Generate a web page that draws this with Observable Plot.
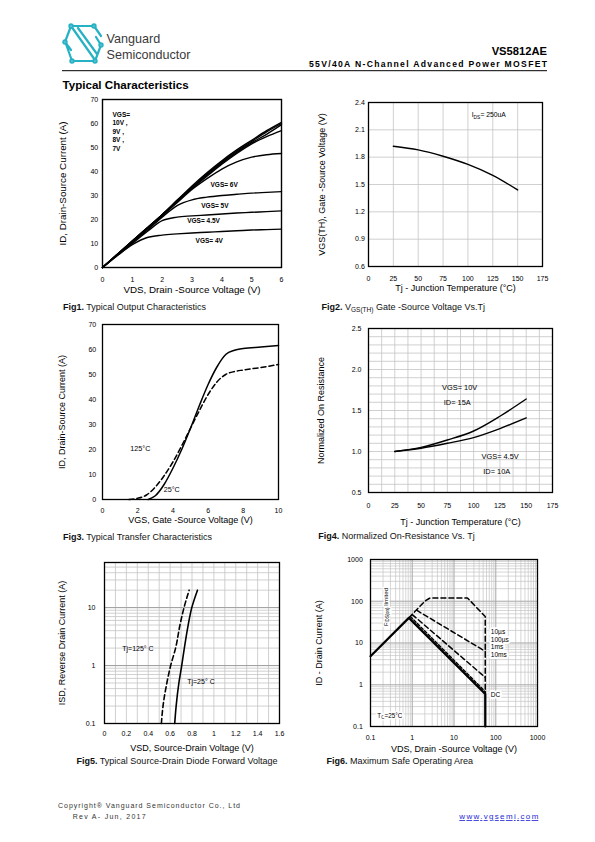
<!DOCTYPE html>
<html><head><meta charset="utf-8">
<script src="https://cdn.jsdelivr.net/npm/d3@7"></script>
<script src="https://cdn.jsdelivr.net/npm/@observablehq/plot@0.6"></script>
<style>
body{margin:0;background:#fff;}
#page{position:relative;width:595px;height:842px;overflow:hidden;background:#fff;}
</style></head><body><div id="page"></div>
<script>
const FONT = "'Liberation Sans', Arial, Helvetica, sans-serif";
const page = document.getElementById("page");

// ================= DATA =================
// Fig1 – output characteristics
const fig1VDS = [0,0.5,1,1.5,2,2.5,3,3.5,4,4.5,5,5.5,6];
const fig1Series = ["10V","9V","8V","7V","6V","5V","4.5V","4V"];
const fig1ID10 = [0,5.5,11,16.5,22,28,34,39.5,44.5,49,53,57,60.5];
const fig1ID9  = [0,5.5,11,16.5,22,28,33.5,39,44,48.5,52.5,56.5,60];
const fig1ID8  = [0,5.5,11,16.5,22,27.5,33,38.5,43.5,48,52,55.5,59.5];
const fig1ID7  = [0,5.5,11,16.5,22,27.5,33,38,43,47.5,51.5,54.5,57];
const fig1ID6  = [0,5.5,10.5,16,21.5,27,32.5,37,41,44,46,47,47.5];
const fig1ID5  = [0,5.3,10.5,15.5,21,25.8,28.2,29.3,30,30.5,31,31.3,31.6];
const fig1ID45 = [0,5,10,15,19.5,21,21.5,21.9,22.3,22.7,23,23.3,23.6];
const fig1ID4  = [0,5,9.5,12.5,13.5,14,14.4,14.7,15,15.3,15.6,15.8,16];
const fig1Labels = ["VGS= 6V","VGS= 5V","VGS= 4.5V","VGS= 4V"];
const fig1LabelX = [3.62,3.31,2.84,3.12];
const fig1LabelY = [34.6,25.8,19.6,11.0];
const fig1Block = "VGS=\n10V ,\n9V ,\n8V ,\n7V";
const fig1XTicks = [0,1,2,3,4,5,6];
const fig1YTicks = [0,10,20,30,40,50,60,70];

// Fig2 – VGS(th) vs Tj
const fig2Tj  = [25,50,75,100,125,150];
const fig2Vth = [1.92,1.88,1.81,1.72,1.60,1.44];
const fig2XTicks = [0,25,50,75,100,125,150,175];
const fig2YTicks = [0.6,0.9,1.2,1.5,1.8,2.1,2.4];

// Fig3 – transfer characteristics
const fig3VGS25  = [2.6,3,3.5,4,4.5,5,5.5,6,6.5,7,7.5,8,9,10];
const fig3ID25   = [0,1.5,6,12.5,20,28.5,37.5,46,53,58,59.7,60.4,61,61.6];
const fig3VGS125 = [1.5,2,2.5,3,3.5,4,4.5,5,5.5,6,6.5,7,7.5,8,9,10];
const fig3ID125  = [0,0.5,1.8,5,9.5,15,21.5,28.5,35.5,42,47,50,51.2,51.8,52.8,54];
const fig3Labels = ["125°C","25°C"];
const fig3LabelX = [1.58,3.48];
const fig3LabelY = [20.4,4.0];
const fig3XTicks = [0,2,4,6,8,10];
const fig3YTicks = [0,10,20,30,40,50,60,70];

// Fig4 – normalized RDS(on)
const fig4Tj   = [25,50,75,100,125,150];
const fig4R10V = [1.0,1.05,1.14,1.25,1.43,1.64];
const fig4R45V = [1.0,1.04,1.10,1.17,1.28,1.41];
const fig4Labels = ["VGS= 10V","ID= 15A","VGS= 4.5V","ID= 10A"];
const fig4LabelX = [70,71.6,107.5,109.2];
const fig4LabelY = [1.78,1.59,0.94,0.756];
const fig4XTicks = [0,25,50,75,100,125,150,175];
const fig4YTicks = [0.5,1.0,1.5,2.0,2.5];

// Fig5 – body diode
const fig5ISD  = [0.1,0.2,0.5,1,2,5,10,20];
const fig5V25  = [0.642,0.655,0.68,0.706,0.73,0.765,0.798,0.85];
const fig5V125 = [0.52,0.535,0.57,0.605,0.65,0.69,0.727,0.774];
const fig5Labels = ["Tj=125° C","Tj=25° C"];
const fig5LabelX = [0.162,0.756];
const fig5LabelY = [1.94,0.53];
const fig5XTicks = [0,0.2,0.4,0.6,0.8,1,1.2,1.4,1.6];
const fig5XTickLabels = ["0","0.2","0.4","0.6","0.8","1","1.2","1.4","1.6"];
const fig5YTicks = [0.1,1,10];
const fig5YTickLabels = ["0.1","1","10"];

// Fig6 – SOA
const soaDC    = [[0.1,4.8],[0.83,40],[56,0.6],[56,0.1]];
const soa10us  = [[0.83,40],[2.0,100],[2.6,118],[3.0,120],[21,120],[56,43],[56,0.6]];
const soa100us = [[1.27,61],[44,7.3],[56,6.3]];
const soa1ms   = [[1.0,48],[44,1.85],[56,1.5]];
const soa10ms  = [[0.9,43],[44,0.87],[56,0.68]];
const fig6Labels = ["10µs","100µs","1ms","10ms","DC"];
const fig6LabelX = [76,76,76,76,76];
const fig6LabelY = [18.8,11.9,7.9,5.3,0.58];
const fig6Ticks = [0.1,1,10,100,1000];
const fig6TickLabels = ["0.1","1","10","100","1000"];

// ================= HELPERS =================
const pg = d3.select(page).append("svg")
  .attr("width",595).attr("height",842)
  .style("position","absolute").style("left","0px").style("top","0px")
  .attr("font-family",FONT);

function chart({left, top, fw, fh, x, y, marks, mL=62, mR=10, mT=8, mB=44}) {
  const svg = Plot.plot({
    width: mL+fw+mR, height: mT+fh+mB,
    marginLeft:mL, marginRight:mR, marginTop:mT, marginBottom:mB,
    x: {...x, label:null}, y: {...y, label:null},
    style:{fontFamily:FONT, fontSize:"7px", color:"#000", background:"transparent", overflow:"visible"},
    marks
  });
  svg.style.position="absolute";
  svg.style.left=(left-mL)+"px";
  svg.style.top=(top-mT)+"px";
  page.appendChild(svg);
  return svg;
}
const lookup = (ticks, labels) => { const m = new Map(ticks.map((t,i)=>[+t.toPrecision(6), labels[i]])); return d => m.get(+(+d).toPrecision(6)) ?? String(d); };
function axes({xt, yt, xfmt, yfmt, xpad, ypad, xtitle, ytitle, xoff, yoff, tsize=9}) {
  return [
    Plot.axisX(xt, {tickSize:0, tickPadding:xpad, tickFormat:xfmt, label:null, fontSize:7}),
    Plot.axisY(yt, {tickSize:0, tickPadding:ypad, tickFormat:yfmt, label:null, fontSize:7}),
    Plot.text([xtitle], {text:d=>d, frameAnchor:"bottom", dy:xoff, fontSize:tsize, textAnchor:"middle"}),
    Plot.text([ytitle], {text:d=>d, frameAnchor:"left", dx:-yoff, rotate:-90, fontSize:tsize, textAnchor:"middle"})
  ];
}
function rich(svg, {x, y, parts, size, rotate=0, anchor="start", halo=false}) {
  const px = svg.scale("x").apply(x), py = svg.scale("y").apply(y);
  const t = d3.select(svg).append("text")
    .attr("transform",`translate(${px},${py}) rotate(${rotate})`)
    .attr("font-family",FONT).attr("font-size",size).attr("text-anchor",anchor)
    .attr("dy","0.35em").attr("fill","#000");
  if (halo) t.attr("stroke","#fff").attr("stroke-width",3).attr("paint-order","stroke");
  let shift = 0;
  for (const [s, sub] of parts) {
    const target = sub ? size*0.22 : 0;
    t.append("tspan").attr("dy", target-shift).attr("font-size", sub ? size*0.72 : size).text(s);
    shift = target;
  }
}
const grid = "#c4c4c4";
const logGrid = (lo, hi) => d3.range(Math.round(Math.log10(lo)), Math.round(Math.log10(hi)))
  .flatMap(e => d3.range(1,10).map(k => +(k*10**e).toPrecision(3)))
  .filter(v => v >= lo*0.999 && v <= hi*1.001);

// ================= FIG 1 =================
const fig1Curves = [fig1ID10,fig1ID9,fig1ID8,fig1ID7,fig1ID6,fig1ID5,fig1ID45,fig1ID4];
const fig1Rows = fig1Series.flatMap((s,k)=>fig1VDS.map((v,i)=>({vgs:s, vds:v, id:fig1Curves[k][i]})));
const fig1LabRows = fig1Labels.map((t,i)=>({t, x:fig1LabelX[i], y:fig1LabelY[i]}));
chart({left:102, top:99, fw:179, fh:168,
  x:{domain:[0,6]}, y:{domain:[0,70]},
  marks:[
    Plot.line(fig1Rows,{x:"vds", y:"id", z:"vgs", stroke:"#000", strokeWidth:1.4, curve:"monotone-x"}),
    Plot.text(fig1LabRows,{x:"x", y:"y", text:"t", textAnchor:"start", fontSize:6.5, fontWeight:"bold"}),
    Plot.text([fig1Block],{x:()=>0.335, y:()=>65.2, text:d=>d, textAnchor:"start", lineAnchor:"top", lineHeight:1.3, fontSize:6.5, fontWeight:"bold"}),
    Plot.frame({stroke:"#000", strokeWidth:1.4}),
    ...axes({xt:fig1XTicks, yt:fig1YTicks, xpad:9.5, ypad:4.3,
      xtitle:"VDS, Drain -Source Voltage (V)", ytitle:"ID, Drain-Source Current (A)", xoff:25, yoff:40, tsize:9.8})
  ]});

// ================= FIG 2 =================
const fig2Rows = fig2Tj.map((t,i)=>({t, v:fig2Vth[i]}));
const c2 = chart({left:368, top:102, fw:174, fh:164,
  x:{domain:[0,175]}, y:{domain:[0.6,2.4]},
  marks:[
    Plot.gridX(fig2XTicks,{stroke:grid, strokeOpacity:1, strokeWidth:0.8}),
    Plot.gridY(fig2YTicks,{stroke:grid, strokeOpacity:1, strokeWidth:0.8}),
    Plot.line(fig2Rows,{x:"t", y:"v", stroke:"#000", strokeWidth:1.4, curve:"monotone-x"}),
    Plot.frame({stroke:"#000", strokeWidth:1.3}),
    ...axes({xt:fig2XTicks, yt:fig2YTicks, yfmt:d=>d.toFixed(1), xpad:9.5, ypad:3.7,
      xtitle:"Tj - Junction Temperature (°C)", ytitle:"VGS(TH), Gate -Source Voltage (V)", xoff:24, yoff:46.5})
  ]});
rich(c2,{x:104.3, y:2.23, size:6.8, parts:[["I",false],["DS",true],["= 250uA",false]]});

// ================= FIG 3 =================
const fig3Rows = [
  ...fig3VGS25.map((v,i)=>({s:"25", v, id:fig3ID25[i]})),
  ...fig3VGS125.map((v,i)=>({s:"125", v, id:fig3ID125[i]}))
];
const fig3LabRows = fig3Labels.map((t,i)=>({t, x:fig3LabelX[i], y:fig3LabelY[i]}));
chart({left:102, top:324, fw:176, fh:175,
  x:{domain:[0,10]}, y:{domain:[0,70]},
  marks:[
    Plot.line(fig3Rows.filter(d=>d.s==="25"),{x:"v", y:"id", stroke:"#000", strokeWidth:1.5, curve:"monotone-x"}),
    Plot.line(fig3Rows.filter(d=>d.s==="125"),{x:"v", y:"id", stroke:"#000", strokeWidth:1.5, strokeDasharray:"5,3", curve:"monotone-x"}),
    Plot.text(fig3LabRows,{x:"x", y:"y", text:"t", textAnchor:"start", fontSize:7.2}),
    Plot.frame({stroke:"#000", strokeWidth:1.3}),
    ...axes({xt:fig3XTicks, yt:fig3YTicks, xpad:8.5, ypad:6.3,
      xtitle:"VGS, Gate -Source Voltage (V)", ytitle:"ID, Drain-Source Current (A)", xoff:23, yoff:40})
  ]});

// ================= FIG 4 =================
const fig4Rows = [
  ...fig4Tj.map((t,i)=>({s:"10V", t, r:fig4R10V[i]})),
  ...fig4Tj.map((t,i)=>({s:"4.5V", t, r:fig4R45V[i]}))
];
const fig4LabRows = fig4Labels.map((t,i)=>({t, x:fig4LabelX[i], y:fig4LabelY[i]}));
chart({left:368, top:328, fw:184, fh:164,
  x:{domain:[0,175]}, y:{domain:[0.5,2.5]},
  marks:[
    Plot.gridX(d3.range(0,176,12.5),{stroke:grid, strokeOpacity:1, strokeWidth:0.8}),
    Plot.gridY(d3.range(5,26,1).map(d=>d/10),{stroke:grid, strokeOpacity:1, strokeWidth:0.8}),
    Plot.line(fig4Rows,{x:"t", y:"r", z:"s", stroke:"#000", strokeWidth:1.4, curve:"monotone-x"}),
    Plot.text(fig4LabRows,{x:"x", y:"y", text:"t", textAnchor:"start", fontSize:7.4}),
    Plot.frame({stroke:"#000", strokeWidth:1.3}),
    ...axes({xt:fig4XTicks, yt:fig4YTicks, yfmt:d=>d.toFixed(1), xpad:10.5, ypad:7,
      xtitle:"Tj - Junction Temperature (°C)", ytitle:"Normalized On Resistance", xoff:32.5, yoff:47})
  ]});

// ================= FIG 5 =================
const fig5Rows = [
  ...fig5ISD.map((a,i)=>({s:"25", v:fig5V25[i], a})),
  ...fig5ISD.map((a,i)=>({s:"125", v:fig5V125[i], a}))
];
const fig5LabRows = fig5Labels.map((t,i)=>({t, x:fig5LabelX[i], y:fig5LabelY[i]}));
chart({left:104, top:562, fw:175, fh:161,
  x:{domain:[0,1.6]}, y:{type:"log", domain:[0.1,60]},
  marks:[
    Plot.gridX(d3.range(0,17,1).map(d=>d/10),{stroke:grid, strokeOpacity:1, strokeWidth:0.8}),
    Plot.gridY(logGrid(0.1,60),{stroke:grid, strokeOpacity:1, strokeWidth:0.8}),
    Plot.gridY(fig5YTicks,{stroke:"#999", strokeOpacity:1, strokeWidth:0.9}),
    Plot.line(fig5Rows.filter(d=>d.s==="25"),{x:"v", y:"a", stroke:"#000", strokeWidth:1.6, curve:"monotone-y"}),
    Plot.line(fig5Rows.filter(d=>d.s==="125"),{x:"v", y:"a", stroke:"#000", strokeWidth:1.6, strokeDasharray:"5,3", curve:"monotone-y"}),
    Plot.text(fig5LabRows,{x:"x", y:"y", text:"t", textAnchor:"start", fontSize:7}),
    Plot.frame({stroke:"#000", strokeWidth:1.3}),
    ...axes({xt:fig5XTicks, yt:fig5YTicks, xfmt:lookup(fig5XTicks,fig5XTickLabels), yfmt:lookup(fig5YTicks,fig5YTickLabels), xpad:7.5, ypad:9,
      xtitle:"VSD, Source-Drain Voltage (V)", ytitle:"ISD, Reverse Drain Current (A)", xoff:27, yoff:42})
  ]});

// ================= FIG 6 =================
const fig6LabRows = fig6Labels.map((t,i)=>({t, x:fig6LabelX[i], y:fig6LabelY[i]}));
const c6 = chart({left:370, top:559, fw:167, fh:167,
  x:{type:"log", domain:[0.1,1000]}, y:{type:"log", domain:[0.1,1000]},
  marks:[
    Plot.gridX(logGrid(0.1,1000),{stroke:grid, strokeOpacity:1, strokeWidth:0.7}),
    Plot.gridY(logGrid(0.1,1000),{stroke:grid, strokeOpacity:1, strokeWidth:0.7}),
    Plot.gridX(fig6Ticks,{stroke:"#aaa", strokeOpacity:1, strokeWidth:0.8}),
    Plot.gridY(fig6Ticks,{stroke:"#aaa", strokeOpacity:1, strokeWidth:0.8}),
    Plot.text(fig6LabRows,{x:"x", y:"y", text:"t", textAnchor:"start", fontSize:6.6, stroke:"#fff", strokeWidth:4, fill:"#000"}),
    Plot.line(soa10us,{x:d=>d[0], y:d=>d[1], stroke:"#000", strokeWidth:1.5, strokeDasharray:"5,3"}),
    Plot.line(soa100us,{x:d=>d[0], y:d=>d[1], stroke:"#000", strokeWidth:1.5, strokeDasharray:"5,3"}),
    Plot.line(soa1ms,{x:d=>d[0], y:d=>d[1], stroke:"#000", strokeWidth:1.5, strokeDasharray:"5,3"}),
    Plot.line(soa10ms,{x:d=>d[0], y:d=>d[1], stroke:"#000", strokeWidth:1.5, strokeDasharray:"3,2"}),
    Plot.line(soaDC,{x:d=>d[0], y:d=>d[1], stroke:"#000", strokeWidth:2.2}),
    Plot.frame({stroke:"#000", strokeWidth:1.3}),
    ...axes({xt:fig6Ticks, yt:fig6Ticks, xfmt:lookup(fig6Ticks,fig6TickLabels), yfmt:lookup(fig6Ticks,fig6TickLabels), xpad:8.5, ypad:7.7,
      xtitle:"VDS, Drain -Source Voltage (V)", ytitle:"ID - Drain Current (A)", xoff:25, yoff:51})
  ]});
rich(c6,{x:0.27, y:71, size:6.2, rotate:-90, anchor:"middle", halo:true, parts:[["R",false],["DS(on)",true],[" limited",false]]});
rich(c6,{x:0.15, y:0.155, size:6.3, halo:true, parts:[["T",false],["C",true],["=25°C",false]]});

// ================= PAGE TEXT =================
const teal = "#27b1c4";
const logo = pg.append("g").attr("stroke",teal).attr("stroke-width",2.2).attr("fill","none")
  .attr("stroke-linejoin","round").attr("stroke-linecap","round");
logo.append("path").attr("d","M71,26 L94,26 M71,26 L65,42 L71,50 M71,26 L95,60 M78,28 L97,54 M94,26 L101,36 M72,61 L95,61 M95,61 L101,45 L96,37 M66,44 L72,61");
[[71,26],[94,26],[65,42],[72,61],[95,61],[101,45]].forEach(([x,y])=>logo.append("circle").attr("cx",x).attr("cy",y).attr("r",1.6).attr("fill","#fff"));
pg.append("text").attr("x",106.5).attr("y",43.3).attr("font-size",12.6).attr("fill","#3a3a3a").text("Vanguard");
pg.append("text").attr("x",106.5).attr("y",59.3).attr("font-size",12.6).attr("fill","#3a3a3a").text("Semiconductor");
pg.append("text").attr("x",547).attr("y",55.3).attr("text-anchor","end").attr("font-size",11.2).attr("font-weight","bold").text("VS5812AE");
pg.append("text").attr("x",309).attr("y",67.4).attr("font-size",8.6).attr("font-weight","bold")
  .attr("textLength",238).attr("lengthAdjust","spacing").text("55V/40A N-Channel Advanced Power MOSFET");
pg.append("line").attr("x1",62).attr("x2",547).attr("y1",70.7).attr("y2",70.7).attr("stroke","#000").attr("stroke-width",1);
pg.append("text").attr("x",62.5).attr("y",88.5).attr("font-size",11.6).attr("font-weight","bold").text("Typical Characteristics");

const captions = [
  {x:63, y:310.3, parts:[["Fig1.","b"],[" Typical Output Characteristics",""]]},
  {x:321.5, y:310.3, parts:[["Fig2.","b"],[" V",""],["GS(TH)","s"],[" Gate -Source Voltage Vs.Tj",""]]},
  {x:63, y:539.7, parts:[["Fig3.","b"],[" Typical Transfer Characteristics",""]]},
  {x:318.3, y:538.7, parts:[["Fig4.","b"],[" Normalized On-Resistance Vs. Tj",""]]},
  {x:76.5, y:764.2, parts:[["Fig5.","b"],[" Typical Source-Drain Diode Forward Voltage",""]]},
  {x:326.5, y:764.2, parts:[["Fig6.","b"],[" Maximum Safe Operating Area",""]]}
];
captions.forEach(c=>{
  const t = pg.append("text").attr("x",c.x).attr("y",c.y).attr("font-size",9).attr("fill","#111");
  let shift=0;
  c.parts.forEach(([s,k])=>{
    const target = k==="s" ? 2 : 0;
    const ts = t.append("tspan").attr("dy",target-shift).text(s);
    if (k==="b") ts.attr("font-weight","bold");
    if (k==="s") ts.attr("font-size",6.5);
    shift = target;
  });
});

pg.append("text").attr("x",58).attr("y",808).attr("font-size",7).attr("fill","#333")
  .attr("textLength",182).attr("lengthAdjust","spacing").text("Copyright® Vanguard Semiconductor Co., Ltd");
pg.append("text").attr("x",72.7).attr("y",818.6).attr("font-size",7).attr("fill","#333")
  .attr("textLength",73).attr("lengthAdjust","spacing").text("Rev A- Jun, 2017");
pg.append("text").attr("x",459.3).attr("y",819).attr("font-size",8).attr("fill","#1f1fd6")
  .attr("textLength",79).attr("lengthAdjust","spacing").attr("text-decoration","underline").text("www.vgsemi.com");
</script>
</body></html>
